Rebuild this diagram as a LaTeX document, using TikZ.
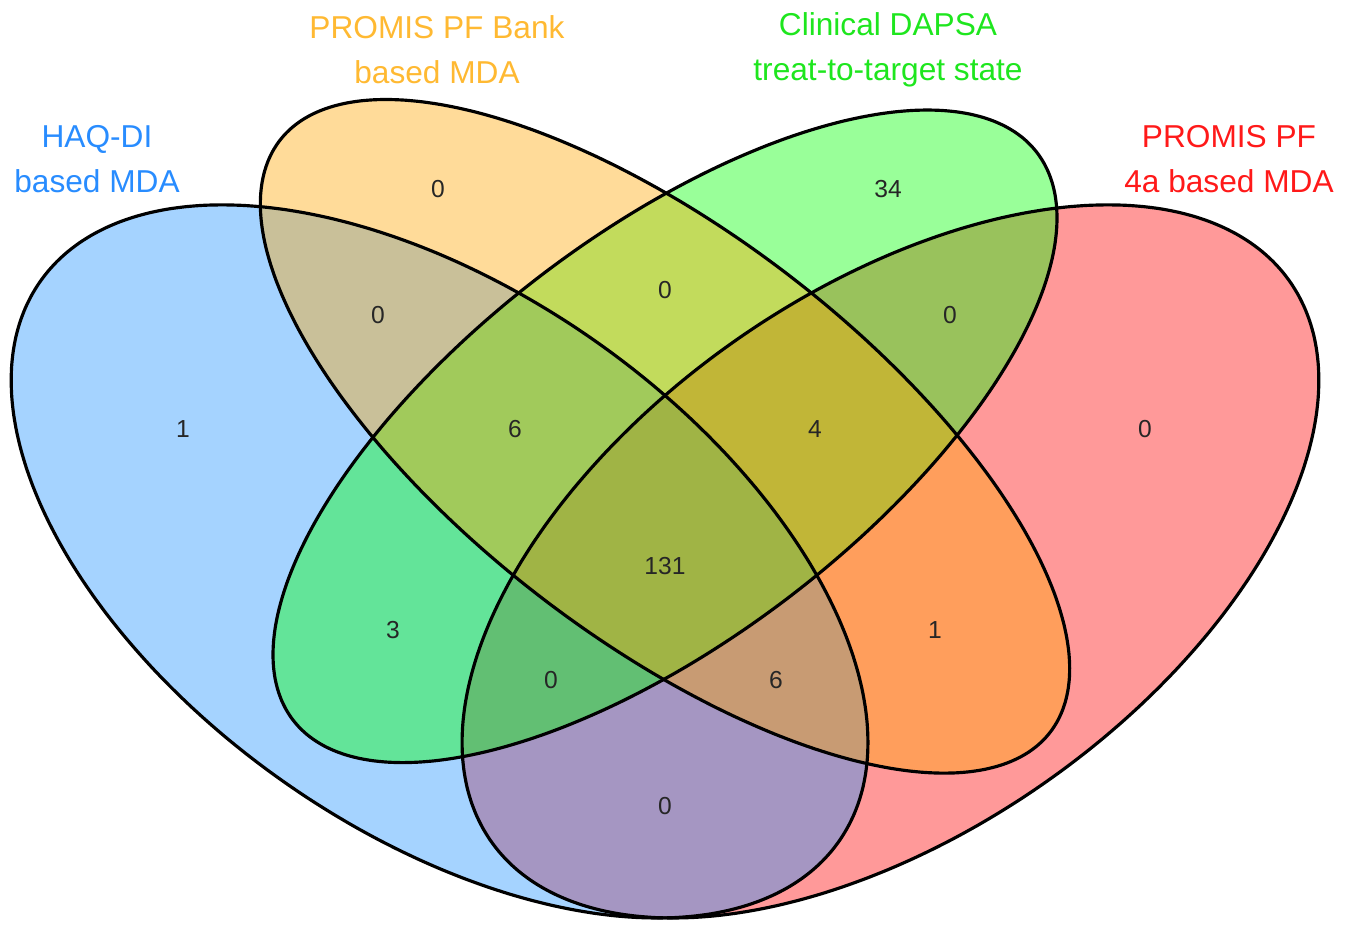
\documentclass[tikz,border=0pt]{standalone}
\usepackage{fontspec}
\setmainfont{Liberation Sans}
\definecolor{cblue}{RGB}{30,144,255}
\definecolor{corange}{RGB}{255,165,0}
\definecolor{cgreen}{RGB}{0,255,0}
\definecolor{cred}{RGB}{255,0,0}
\definecolor{tblue}{RGB}{40,140,255}
\definecolor{torange}{RGB}{255,185,50}
\definecolor{tgreen}{RGB}{30,230,30}
\definecolor{tred}{RGB}{255,25,25}
\newcommand\vennell[5]{plot[smooth cycle,domain=0:357,samples=120,variable=\t]
  ({-86.5+1503*(#1+#5*cos(\t)*cos(#4)-#3*sin(\t)*sin(#4))},
   {1149.4-1251*(#2+#5*cos(\t)*sin(#4)+#3*sin(\t)*cos(#4))})}
\begin{document}
\begin{tikzpicture}[x=0.01cm,y=-0.01cm,
  setlabel/.style={align=center,font=\fontsize{9}{12.8}\selectfont},
  count/.style={font=\fontsize{7}{8}\selectfont,text=black!85},
  venfill/.style={fill opacity=0.4},
  venborder/.style={draw=black,line width=0.9pt}]
\useasboundingbox (0,0) rectangle (1355,925);
% fills
\fill[cred,venfill] \vennell{0.65}{0.47}{0.20}{45}{0.35};
\fill[cblue,venfill] \vennell{0.35}{0.47}{0.20}{-45}{0.35};
\fill[cgreen,venfill] \vennell{0.50}{0.57}{0.15}{45}{0.337};
\fill[corange,venfill] \vennell{0.50}{0.57}{0.15}{-45}{0.35};
% borders
\draw[venborder] \vennell{0.65}{0.47}{0.20}{45}{0.35};
\draw[venborder] \vennell{0.35}{0.47}{0.20}{-45}{0.35};
\draw[venborder] \vennell{0.50}{0.57}{0.15}{45}{0.337};
\draw[venborder] \vennell{0.50}{0.57}{0.15}{-45}{0.35};
% set labels
\node[setlabel,text=tblue] (lblue) at (97,159) {HAQ-DI\\based MDA};
\node[setlabel,text=torange] (lorange) at (437,50) {PROMIS PF Bank\\based MDA};
\node[setlabel,text=tgreen] (lgreen) at (888,50) {Clinical DAPSA\\treat-to-target state};
\node[setlabel,text=tred] (lred) at (1229,159) {PROMIS PF\\4a based MDA};
% counts
\node[count] (n1) at (438,189) {0};
\node[count] (n2) at (888,189) {34};
\node[count] (n3) at (665,290) {0};
\node[count] (n4) at (378,315) {0};
\node[count] (n5) at (950,315) {0};
\node[count] (n6) at (183,429) {1};
\node[count] (n7) at (515,429) {6};
\node[count] (n8) at (815,429) {4};
\node[count] (n9) at (1145,429) {0};
\node[count] (n10) at (665,566) {131};
\node[count] (n11) at (393,630) {3};
\node[count] (n12) at (935,630) {1};
\node[count] (n13) at (551,680) {0};
\node[count] (n14) at (776,680) {6};
\node[count] (n15) at (665,806) {0};
\end{tikzpicture}
\end{document}
